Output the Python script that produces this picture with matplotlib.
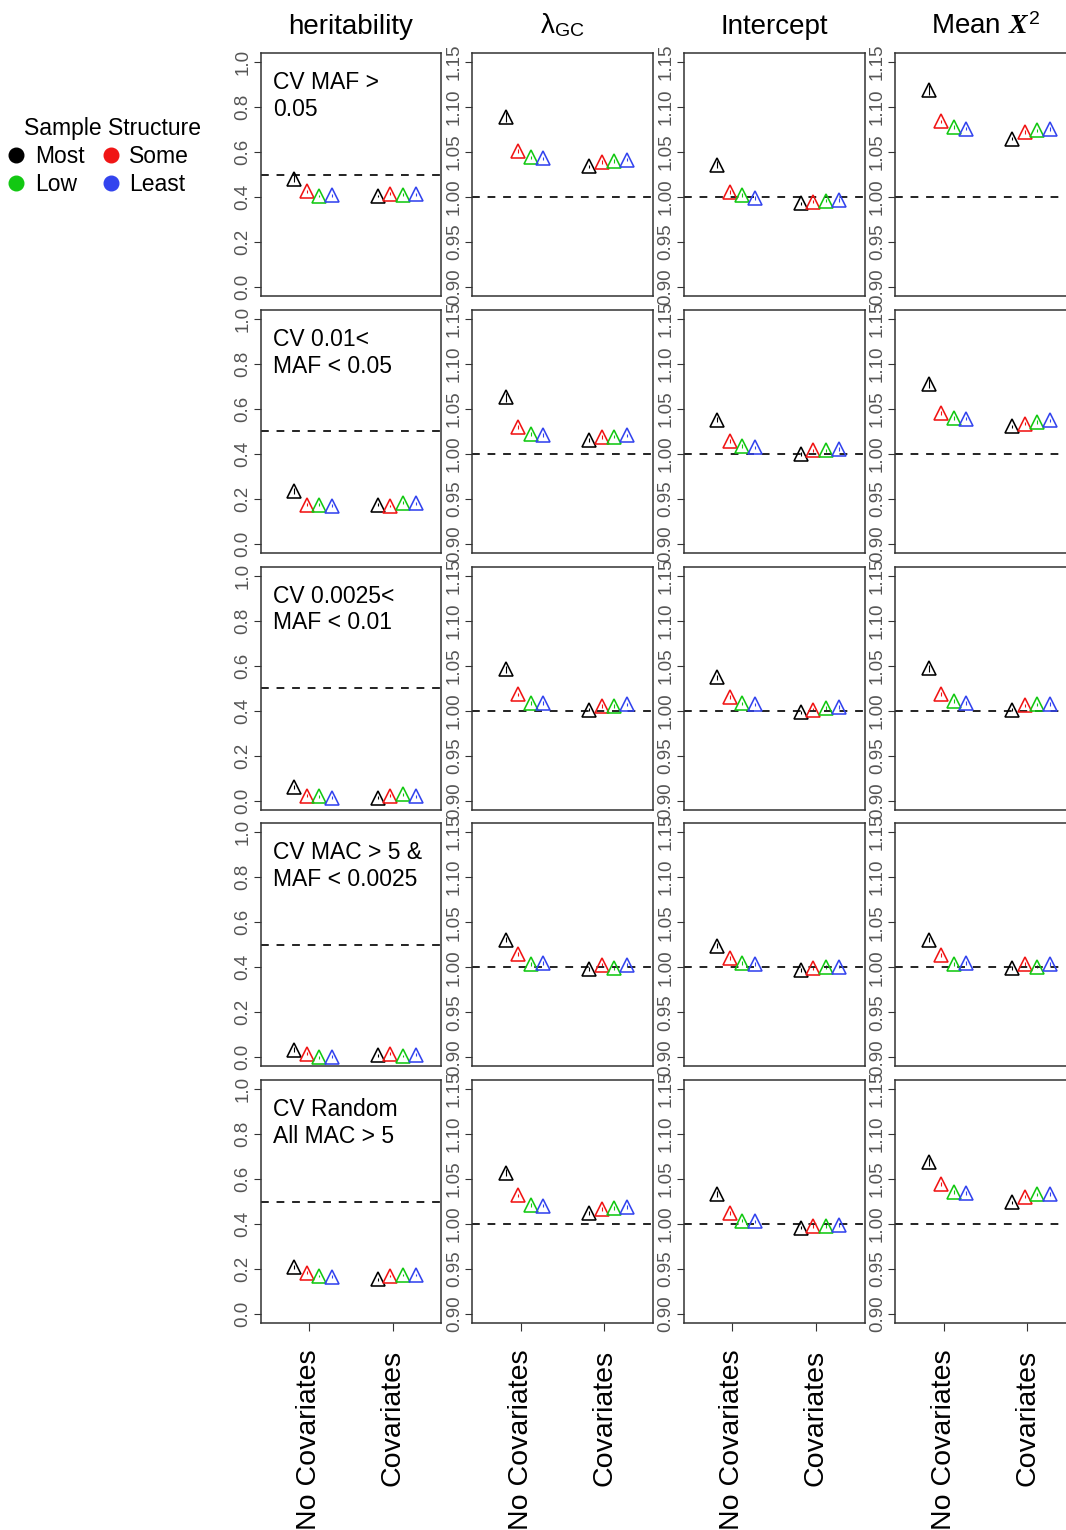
import numpy as np
import matplotlib
matplotlib.use("Agg")
import matplotlib.pyplot as plt
from matplotlib.lines import Line2D

plt.rcParams['font.family'] = ['Liberation Sans', 'DejaVu Sans']
plt.rcParams['mathtext.fontset'] = 'custom'
plt.rcParams['mathtext.rm'] = 'Liberation Sans'
plt.rcParams['mathtext.it'] = 'Liberation Serif:italic:bold'

# groups of simulated causal variants (one row each)
row_labels = ['CV MAF >\n0.05', 'CV 0.01<\nMAF < 0.05', 'CV 0.0025<\nMAF < 0.01',
              'CV MAC > 5 &\nMAF < 0.0025', 'CV Random\nAll MAC > 5']
structure = ['Most', 'Some', 'Low', 'Least']
models = ['No Covariates', 'Covariates']

# each row: [No Covariates: Most, Some, Low, Least, Covariates: Most, Some, Low, Least]
heritability = [
    [0.482, 0.426, 0.404, 0.407, 0.404, 0.415, 0.410, 0.412],
    [0.235, 0.173, 0.173, 0.170, 0.173, 0.168, 0.182, 0.179],
    [0.061, 0.022, 0.018, 0.012, 0.013, 0.022, 0.027, 0.019],
    [0.034, 0.016, 0.000, 0.003, 0.009, 0.016, 0.005, 0.012],
    [0.210, 0.183, 0.169, 0.166, 0.154, 0.169, 0.174, 0.174],
]
lambda_gc = [
    [1.089, 1.051, 1.044, 1.043, 1.034, 1.039, 1.040, 1.0415],
    [1.063, 1.030, 1.022, 1.021, 1.0156, 1.0186, 1.019, 1.0205],
    [1.0458, 1.018, 1.0086, 1.0086, 1.001, 1.005, 1.005, 1.0067],
    [1.0305, 1.0145, 1.0033, 1.0045, 0.998, 1.0026, 0.999, 1.0026],
    [1.057, 1.0317, 1.021, 1.0205, 1.012, 1.0168, 1.018, 1.0186],
]
intercept = [
    [1.036, 1.0056, 1.002, 0.999, 0.993, 0.995, 0.996, 0.997],
    [1.038, 1.014, 1.0086, 1.007, 1.000, 1.0037, 1.0037, 1.005],
    [1.037, 1.015, 1.008, 1.0067, 0.998, 1.001, 1.0026, 1.0037],
    [1.024, 1.010, 1.0045, 1.0037, 0.997, 0.999, 1.000, 1.0007],
    [1.0335, 1.012, 1.0037, 1.003, 0.996, 0.998, 0.998, 0.999],
]
mean_chi2 = [
    [1.119, 1.084, 1.078, 1.076, 1.065, 1.072, 1.074, 1.0755],
    [1.078, 1.0455, 1.040, 1.039, 1.0305, 1.0335, 1.0354, 1.037],
    [1.047, 1.0186, 1.0104, 1.0086, 1.001, 1.0056, 1.0067, 1.0075],
    [1.0305, 1.0137, 1.0037, 1.0045, 0.999, 1.0033, 1.0007, 1.0033],
    [1.069, 1.0447, 1.0358, 1.0346, 1.024, 1.0305, 1.0328, 1.0335],
]

# standard errors: "Most / No Covariates" per row, and the typical one for the rest
se_most = {'herit': [0.015, 0.012, 0.010, 0.010, 0.010],
           'lambda': [0.006, 0.005, 0.004, 0.003, 0.004],
           'int': [0.004, 0.003, 0.003, 0.003, 0.003],
           'chi2': [0.006, 0.005, 0.004, 0.003, 0.004]}
se_rest = {'herit': 0.006, 'lambda': 0.002, 'int': 0.002, 'chi2': 0.002}

metrics = [('herit', heritability, 'heritability'),
           ('lambda', lambda_gc, r'$\mathrm{\lambda}_{\mathrm{GC}}$'),
           ('int', intercept, 'Intercept'),
           ('chi2', mean_chi2, r'Mean $\mathit{X}^{2}$')]

colors = ['#000000', '#F01515', '#12C812', '#3344EE']
offsets = [-0.18, -0.03, 0.12, 0.27]

W, H = 1066, 1530
fig = plt.figure(figsize=(W / 100, H / 100), dpi=100)

col_left = [260.5, 472, 683.5, 895]
row_top = [53, 309.75, 566.5, 823.25, 1080]
pw, ph = 181, 243

for c, (key, vals, title) in enumerate(metrics):
    for r in range(5):
        ax = fig.add_axes([col_left[c] / W, 1 - (row_top[r] + ph) / H, pw / W, ph / H])
        v = np.array(vals[r])
        for k in range(4):
            for m in range(2):
                idx = m * 4 + k
                se = se_most[key][r] if idx == 0 else se_rest[key]
                ax.errorbar(m + 1 + offsets[k], v[idx], yerr=se, fmt='^', ms=9.5,
                            mfc='none', mec=colors[k], mew=1.15, ecolor=colors[k],
                            elinewidth=0.8, capsize=0)
        if key == 'herit':
            ax.axhline(0.5, color='#222222', lw=1.4, ls=(0, (4, 4)))
            ax.set_ylim(-0.04, 1.04)
            ax.set_yticks([0.0, 0.2, 0.4, 0.6, 0.8, 1.0])
            ax.set_yticklabels(['0.0', '0.2', '0.4', '0.6', '0.8', '1.0'])
            ax.text(0.07, 0.925, row_labels[r], transform=ax.transAxes, ha='left', va='top',
                    fontsize=16.5, linespacing=1.2)
        else:
            ax.axhline(1.0, color='#222222', lw=1.4, ls=(0, (4, 4)))
            ax.set_ylim(0.89, 1.16)
            ax.set_yticks([0.90, 0.95, 1.00, 1.05, 1.10, 1.15])
            ax.set_yticklabels(['0.90', '0.95', '1.00', '1.05', '1.10', '1.15'])
        ax.set_xlim(0.42, 2.58)
        ax.tick_params(axis='y', direction='out', length=5, width=0.8, pad=1.5,
                       labelsize=13.5, labelcolor='#555555', color='#333333')
        for lab in ax.get_yticklabels():
            lab.set_rotation(90)
            lab.set_va('center')
        if r == 4:
            ax.set_xticks([1, 2])
            ax.set_xticklabels(models, rotation=90, fontsize=20.5)
            ax.tick_params(axis='x', direction='out', length=6, width=0.8, pad=13,
                           color='#333333')
        else:
            ax.set_xticks([])
        for sp in ax.spines.values():
            sp.set_linewidth(1.1)
            sp.set_color('#333333')
        if r == 0:
            ax.set_title(title, fontsize=20, pad=14)

handles = [Line2D([], [], ls='none', marker='o', ms=10.5, mfc=col, mec=col)
           for col in colors]
order = [0, 2, 1, 3]
fig.legend([handles[i] for i in order], [structure[i] for i in order], ncol=2,
           loc='upper left', bbox_to_anchor=(6 / W, 1 - 145 / H), frameon=False,
           fontsize=16.5, handlelength=0.9, handletextpad=0.35,
           columnspacing=0.7, labelspacing=0.2, borderpad=0, borderaxespad=0)
fig.text(112 / W, 1 - 128 / H, 'Sample Structure', ha='center', va='center', fontsize=16.5)

fig.savefig('out.png', dpi=100)
